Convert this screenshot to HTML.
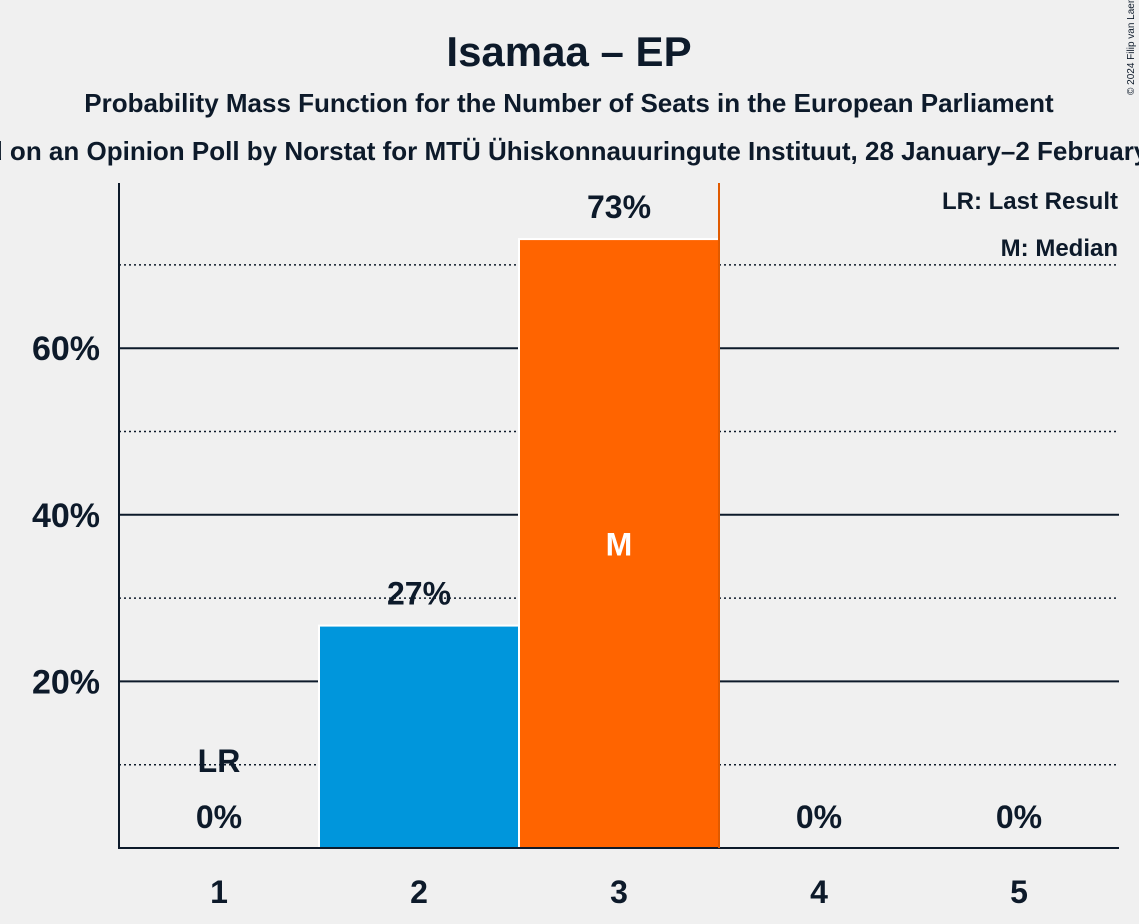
<!DOCTYPE html>
<html><head><meta charset="utf-8"><style>
body{margin:0;background:#f0f0f0;}
svg{display:block;font-family:"Liberation Sans",sans-serif;}
</style></head><body>
<svg id="c" width="1139" height="924" viewBox="0 0 1139 924">
<rect width="1139" height="924" fill="#f0f0f0"/>
<text x="569" y="66" text-anchor="middle" font-size="42" font-weight="bold" fill="#0d1a2a">Isamaa – EP</text>
<text x="569" y="112" text-anchor="middle" font-size="26" font-weight="bold" fill="#0d1a2a">Probability Mass Function for the Number of Seats in the European Parliament</text>
<text x="569" y="160" text-anchor="middle" font-size="26" font-weight="bold" fill="#0d1a2a">Based on an Opinion Poll by Norstat for MTÜ Ühiskonnauuringute Instituut, 28 January–2 February 2024</text>
<text transform="translate(1134,95) rotate(-90)" font-size="10" fill="#0d1a2a">© 2024 Filip van Laenen</text>
<g id="grid"></g>
<g id="bars"></g>
<line x1="119" y1="183" x2="119" y2="849" stroke="#0d1a2a" stroke-width="2"/>
<line x1="118" y1="848" x2="1119" y2="848" stroke="#0d1a2a" stroke-width="2"/>
<text x="1118" y="209" text-anchor="end" font-size="24" font-weight="bold" fill="#0d1a2a">LR: Last Result</text>
<text x="1118" y="256" text-anchor="end" font-size="24" font-weight="bold" fill="#0d1a2a">M: Median</text>
</svg>
<script>
const seats=[1,2,3,4,5];
const probs=[0,26.7,73.1,0,0];
const labels=["0%","27%","73%","0%","0%"];
const yTicks=[20,40,60];
const yDotted=[10,30,50,70];
const lastResult=1;
const median=3;
const ns="http://www.w3.org/2000/svg";
const y=v=>848-v*8.33;
const xc=s=>219+(s-1)*200;
const grid=document.getElementById('grid'),bars=document.getElementById('bars'),svg=document.getElementById('c');
function mk(t,a,p){const e=document.createElementNS(ns,t);for(const k in a)e.setAttribute(k,a[k]);p.appendChild(e);return e;}
yDotted.forEach(v=>{const l=mk('line',{x1:119,x2:1119,y1:y(v),y2:y(v),stroke:'#0d1a2a','stroke-width':1.5,'stroke-dasharray':'2,3'},grid);

});
yTicks.forEach(v=>{const l=mk('line',{x1:119,x2:1119,y1:y(v),y2:y(v),stroke:'#0d1a2a','stroke-width':2},grid);


const t=mk('text',{x:100,y:y(v)+12,'text-anchor':'end','font-size':34,'font-weight':'bold',fill:'#0d1a2a'},svg);t.textContent=v+'%';

});
seats.forEach((s,i)=>{
 const p=probs[i];
 if(p>0){const r=mk('rect',{x:xc(s)-100,y:y(p),width:200,height:848-y(p),fill:s===median?'#ff6400':'#0096dc',stroke:'#fff','stroke-width':2},bars);
 
 }
 const t=mk('text',{x:xc(s),y:p>0?y(p)-21:828,'text-anchor':'middle','font-size':32,'font-weight':'bold',fill:'#0d1a2a'},svg);t.textContent=labels[i];
 
 
 const xl=mk('text',{x:xc(s),y:903,'text-anchor':'middle','font-size':32,'font-weight':'bold',fill:'#0d1a2a'},svg);xl.textContent=s;
 
 
 if(s===median){const m=mk('text',{x:xc(s),y:y(p/2)+12,'text-anchor':'middle','font-size':32,'font-weight':'bold',fill:'#fff'},svg);m.textContent='M';
 
 }
 if(s===lastResult){const m=mk('text',{x:xc(s),y:772,'text-anchor':'middle','font-size':32,'font-weight':'bold',fill:'#0d1a2a'},svg);m.textContent='LR';
 
 }
});
const ml=mk('line',{x1:xc(median)+100,x2:xc(median)+100,y1:183,y2:848,stroke:'#e05a00','stroke-width':2},svg);


</script>
</body></html>
